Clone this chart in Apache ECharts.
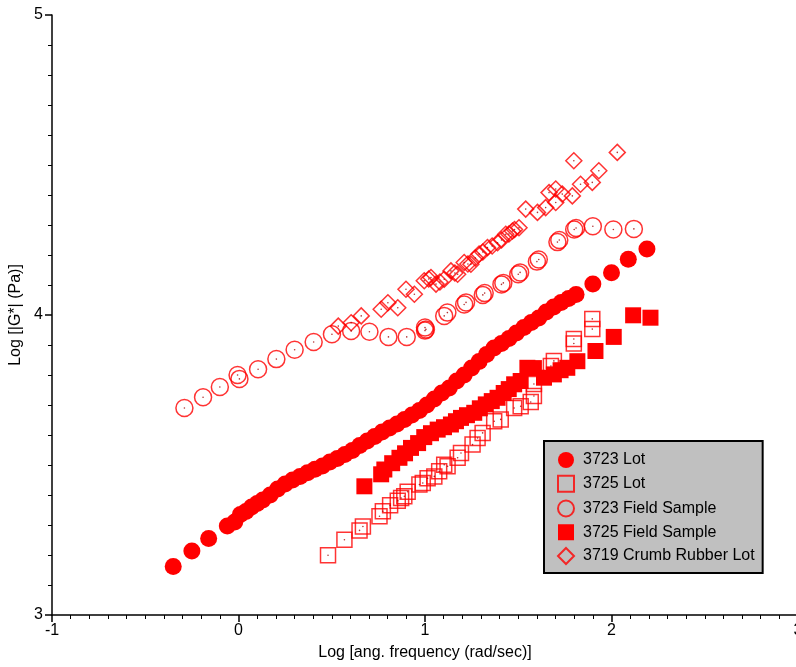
<!DOCTYPE html>
<html>
<head>
<meta charset="utf-8">
<script src="https://cdn.jsdelivr.net/npm/echarts@6/dist/echarts.min.js"></script>
<style>
html,body{margin:0;padding:0;background:#fff;}
#chart{width:796px;height:667px;}
</style>
</head>
<body>
<div id="chart"></div>
<script>
// ---- data: [log angular frequency, log |G*|] ----
var lot3723 = [[-0.35,3.162],[-0.25,3.213],[-0.16,3.255],[-0.06,3.297],[-0.02,3.31],[0.01,3.335],[0.04,3.345],[0.07,3.36],[0.10,3.372],[0.13,3.383],[0.17,3.40],[0.21,3.42],[0.25,3.437],[0.29,3.45],[0.33,3.462],[0.37,3.474],[0.41,3.486],[0.45,3.497],[0.49,3.51],[0.53,3.522],[0.57,3.535],[0.61,3.548],[0.65,3.565],[0.69,3.58],[0.73,3.595],[0.77,3.61],[0.81,3.623],[0.85,3.637],[0.89,3.652],[0.93,3.667],[0.97,3.682],[1.01,3.70],[1.05,3.72],[1.09,3.74],[1.13,3.757],[1.17,3.78],[1.21,3.80],[1.25,3.823],[1.29,3.845],[1.33,3.868],[1.37,3.89],[1.41,3.905],[1.45,3.922],[1.49,3.94],[1.53,3.958],[1.57,3.975],[1.61,3.99],[1.65,4.01],[1.69,4.027],[1.73,4.042],[1.77,4.055],[1.81,4.068],[1.90,4.103],[2.00,4.141],[2.09,4.186],[2.19,4.22]];
var lot3725 = [[0.48,3.199],[0.568,3.251],[0.649,3.282],[0.667,3.295],[0.756,3.329],[0.774,3.346],[0.813,3.366],[0.854,3.381],[0.872,3.39],[0.889,3.396],[0.907,3.411],[0.97,3.435],[0.988,3.44],[1.014,3.456],[1.05,3.462],[1.076,3.479],[1.103,3.501],[1.121,3.496],[1.175,3.524],[1.193,3.54],[1.255,3.568],[1.282,3.59],[1.309,3.607],[1.371,3.646],[1.406,3.652],[1.478,3.69],[1.513,3.696],[1.567,3.71],[1.584,3.77],[1.584,3.73],[1.675,3.83],[1.691,3.847],[1.798,3.92],[1.798,3.905],[1.897,3.987],[1.897,3.953]];
var field3723 = [[-0.29,3.69],[-0.19,3.726],[-0.10,3.76],[-0.005,3.80],[0.005,3.787],[0.105,3.819],[0.203,3.853],[0.301,3.884],[0.403,3.91],[0.501,3.936],[0.604,3.947],[0.702,3.944],[0.804,3.927],[0.902,3.927],[1.0,3.948],[1.0,3.958],[1.005,3.952],[1.103,3.997],[1.12,4.008],[1.21,4.035],[1.22,4.042],[1.31,4.067],[1.32,4.073],[1.41,4.102],[1.42,4.107],[1.50,4.136],[1.51,4.142],[1.60,4.178],[1.61,4.185],[1.71,4.243],[1.72,4.25],[1.80,4.285],[1.81,4.29],[1.90,4.296],[2.01,4.285],[2.12,4.287]];
var field3725 = [[0.675,3.429],[0.765,3.469],[0.782,3.485],[0.824,3.506],[0.863,3.524],[0.893,3.539],[0.925,3.557],[0.963,3.573],[0.996,3.593],[1.032,3.606],[1.068,3.618],[1.102,3.626],[1.139,3.635],[1.166,3.646],[1.193,3.657],[1.225,3.666],[1.264,3.674],[1.294,3.689],[1.326,3.702],[1.358,3.713],[1.389,3.724],[1.422,3.74],[1.449,3.753],[1.478,3.769],[1.513,3.78],[1.549,3.824],[1.584,3.823],[1.638,3.791],[1.691,3.802],[1.727,3.816],[1.763,3.824],[1.817,3.846],[1.914,3.88],[2.012,3.927],[2.116,3.999],[2.209,3.991]];
var crumb3719 = [[0.535,3.963],[0.604,3.974],[0.658,3.997],[0.765,4.019],[0.801,4.041],[0.854,4.024],[0.898,4.086],[0.943,4.069],[0.996,4.114],[1.02,4.12],[1.032,4.125],[1.059,4.103],[1.08,4.11],[1.103,4.119],[1.139,4.147],[1.16,4.14],[1.175,4.136],[1.21,4.175],[1.23,4.17],[1.246,4.169],[1.27,4.19],[1.29,4.203],[1.31,4.21],[1.335,4.225],[1.36,4.23],[1.389,4.241],[1.41,4.25],[1.433,4.269],[1.45,4.27],[1.469,4.28],[1.48,4.285],[1.504,4.291],[1.54,4.353],[1.603,4.342],[1.647,4.358],[1.665,4.408],[1.701,4.42],[1.701,4.375],[1.736,4.403],[1.79,4.397],[1.798,4.514],[1.834,4.436],[1.897,4.442],[1.932,4.481],[2.031,4.542]];
var seriesNames = ['3723 Lot','3725 Lot','3723 Field Sample','3725 Field Sample','3719 Crumb Rubber Lot'];
var xTicks = {min:-1, max:3, step:1};
var yTicks = {min:3, max:5, step:1};

var FONT = '"Liberation Sans", Arial, sans-serif';
var RED = '#ff0000';
var chart = echarts.init(document.getElementById('chart'), null, {renderer:'canvas'});

function axisCommon() {
  return {
    type:'value',
    splitLine:{show:false},
    axisLine:{show:true, onZero:false, lineStyle:{color:'#000', width:1.5}},
    axisTick:{show:true, inside:false, length:7, lineStyle:{color:'#000', width:1.5}},
    minorTick:{show:true, splitNumber:10, length:4, lineStyle:{color:'#000', width:1}},
    minorSplitLine:{show:false},
    axisLabel:{color:'#000', fontSize:16, fontFamily:FONT},
    nameTextStyle:{color:'#000', fontSize:16, fontFamily:FONT}
  };
}
var xa = axisCommon();
xa.min = xTicks.min; xa.max = xTicks.max; xa.interval = xTicks.step;
xa.name = 'Log [ang. frequency (rad/sec)]'; xa.nameLocation = 'middle'; xa.nameGap = 30;
xa.axisLabel.margin = 8;
xa.axisLabel.showMaxLabel = true;
var ya = axisCommon();
ya.min = yTicks.min; ya.max = yTicks.max; ya.interval = yTicks.step;
ya.name = 'Log [|G*| (Pa)]'; ya.nameLocation = 'middle'; ya.nameGap = 19; ya.nameRotate = 90;
ya.axisLabel.margin = 9;

var openStyle = {color:'rgba(0,0,0,0)', borderColor:RED, borderWidth:1.5};
var dots = [].concat(lot3725, field3723, crumb3719);

var option = {
  animation:false,
  backgroundColor:'#fff',
  grid:{left:52, top:15, width:746, height:600, containLabel:false, outerBoundsMode:'none'},
  xAxis:xa,
  yAxis:ya,
  legend:{
    data:seriesNames,
    orient:'vertical',
    left:544, top:441,
    backgroundColor:'#c0c0c0',
    borderColor:'#000', borderWidth:2, borderRadius:0,
    padding:[11,8,8,13],
    itemGap:6.75, itemWidth:16, itemHeight:16,
    symbolKeepAspect:true,
    selectedMode:false,
    textStyle:{color:'#000', fontSize:16, lineHeight:16, fontFamily:FONT, padding:[0,0,0,4]}
  },
  series:[
    {name:seriesNames[0], type:'scatter', data:lot3723, symbol:'circle', symbolSize:17, itemStyle:{color:RED, opacity:1}},
    {name:seriesNames[3], type:'scatter', data:field3725, symbol:'rect', symbolSize:16, itemStyle:{color:RED, opacity:1}},
    {name:seriesNames[1], type:'scatter', data:lot3725, symbol:'rect', symbolSize:15, itemStyle:openStyle},
    {name:seriesNames[2], type:'scatter', data:field3723, symbol:'circle', symbolSize:17, itemStyle:openStyle},
    {name:seriesNames[4], type:'scatter', data:crumb3719, symbol:'diamond', symbolSize:16, itemStyle:openStyle},
    {name:'centers', type:'scatter', data:dots, symbol:'circle', symbolSize:1.6, silent:true, itemStyle:{color:'#a00000'}}
  ]
};
chart.setOption(option);
</script>
</body>
</html>
